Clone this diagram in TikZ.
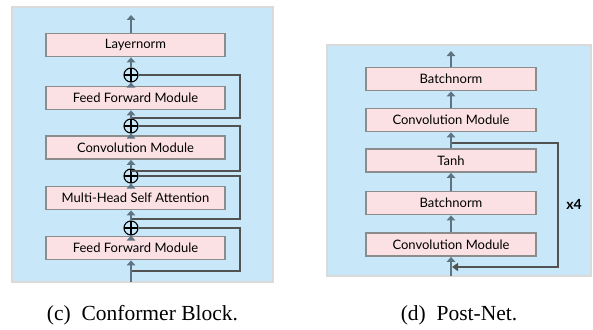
\documentclass[tikz,border=0pt]{standalone}
\usepackage{fontspec}
\setmainfont{Liberation Serif}
\newfontfamily\boxfont{Lato}
\usetikzlibrary{arrows.meta}
\definecolor{panelbg}{HTML}{C8E8FA}
\definecolor{panelborder}{HTML}{DADADA}
\definecolor{boxfill}{HTML}{FCE1E4}
\definecolor{boxdraw}{HTML}{8C8C8C}
\definecolor{flow}{HTML}{5F7482}
\definecolor{skipcol}{HTML}{525252}
\begin{document}
\begin{tikzpicture}[x=1pt,y=-1pt,
  blk/.style={draw=boxdraw, fill=boxfill, line width=1.8pt, inner sep=0pt,
    font=\boxfont\fontsize{13}{15}\selectfont},
  blkL/.style={blk, minimum width=179pt, minimum height=23pt},
  blkR/.style={blk, minimum width=170pt, minimum height=23pt},
  flowarrow/.style={draw=flow, line width=2.2pt, -{Triangle[length=5pt,width=8.5pt]}},
  skipline/.style={draw=skipcol, line width=2pt},
  skiparrow/.style={draw=skipcol, line width=2pt, -{Triangle[length=6pt,width=8pt]}},
  oplus/.style={circle, draw=black, line width=1.1pt, minimum size=14pt, inner sep=0pt,
    path picture={\draw[black, line width=1.1pt]
      (path picture bounding box.north) -- (path picture bounding box.south)
      (path picture bounding box.west) -- (path picture bounding box.east);}},
  caption/.style={font=\fontsize{21.5}{25}\selectfont, anchor=base}
]
\useasboundingbox (0,0) rectangle (593,329);

% ---------- left panel: Conformer block ----------
\fill[panelbg] (12,7) rectangle (273,282);
\draw[panelborder, line width=2pt] (12,7) rectangle (273,282);

\node[blkL] (ln)  at (135.5,45)  {Layernorm};
\node[blkL] (ff1) at (135.5,98)  {Feed Forward Module};
\node[blkL] (cv)  at (135.5,147.5) {Convolution Module};
\node[blkL] (mh)  at (135.5,198) {Multi-Head Self Attention};
\node[blkL] (ff2) at (135.5,248) {Feed Forward Module};

\node[oplus] (o1) at (131,75)  {};
\node[oplus] (o2) at (131,126) {};
\node[oplus] (o3) at (131,176) {};
\node[oplus] (o4) at (131,228) {};

\coordinate (outL) at (131,15);
\coordinate (inL)  at (131,282);
\coordinate (s1) at (240,118);
\coordinate (s2) at (240,171);
\coordinate (s3) at (240,219);
\coordinate (s4) at (240,271);

\draw[skipline] (o1.east) -| (s1) -- (s1 -| o1);
\draw[skipline] (o2.east) -| (s2) -- (s2 -| o2);
\draw[skipline] (o3.east) -| (s3) -- (s3 -| o3);
\draw[skipline] (o4.east) -| (s4) -- (s4 -| o4);

\draw[flowarrow] (outL |- ln.north) -- (outL);
\draw[flowarrow] (o1.north) -- (o1 |- ln.south);
\draw[flowarrow] (o1 |- ff1.north) -- (o1.south);
\draw[flowarrow] (o2.north) -- (o2 |- ff1.south);
\draw[flowarrow] (o2 |- cv.north) -- (o2.south);
\draw[flowarrow] (o3.north) -- (o3 |- cv.south);
\draw[flowarrow] (o3 |- mh.north) -- (o3.south);
\draw[flowarrow] (o4.north) -- (o4 |- mh.south);
\draw[flowarrow] (o4 |- ff2.north) -- (o4.south);
\draw[flowarrow] (inL) -- (inL |- ff2.south);

% ---------- right panel: Post-Net ----------
\fill[panelbg] (327,45) rectangle (591,276);
\draw[panelborder, line width=2pt] (327,45) rectangle (591,276);

\node[blkR] (bn1) at (451,79)    {Batchnorm};
\node[blkR] (cv1) at (451,120)   {Convolution Module};
\node[blkR] (th)  at (451,160.5) {Tanh};
\node[blkR] (bn2) at (451,203)   {Batchnorm};
\node[blkR] (cv2) at (451,244.5) {Convolution Module};

\coordinate (outR) at (451,51);
\coordinate (inR)  at (451,276);
\coordinate (tapR) at (451,143);
\coordinate (loopR) at (558,267);

\draw[skiparrow] (tapR) -| (loopR) -- ([xshift=1pt]loopR -| cv2);

\draw[flowarrow] (bn1.north) -- (outR);
\draw[flowarrow] (cv1.north) -- (bn1.south);
\draw[flowarrow] (th.north) -- (cv1.south);
\draw[flowarrow] (bn2.north) -- (th.south);
\draw[flowarrow] (cv2.north) -- (bn2.south);
\draw[flowarrow] (inR) -- (cv2.south);

\node[font=\boxfont\bfseries\fontsize{14}{16}\selectfont] (x4) at (574,204) {x4};

% ---------- captions ----------
\node[caption] (capc) at (142.5,320) {(c)\enspace Conformer Block.};
\node[caption] (capd) at (459,320) {(d)\enspace Post-Net.};
\end{tikzpicture}
\end{document}
